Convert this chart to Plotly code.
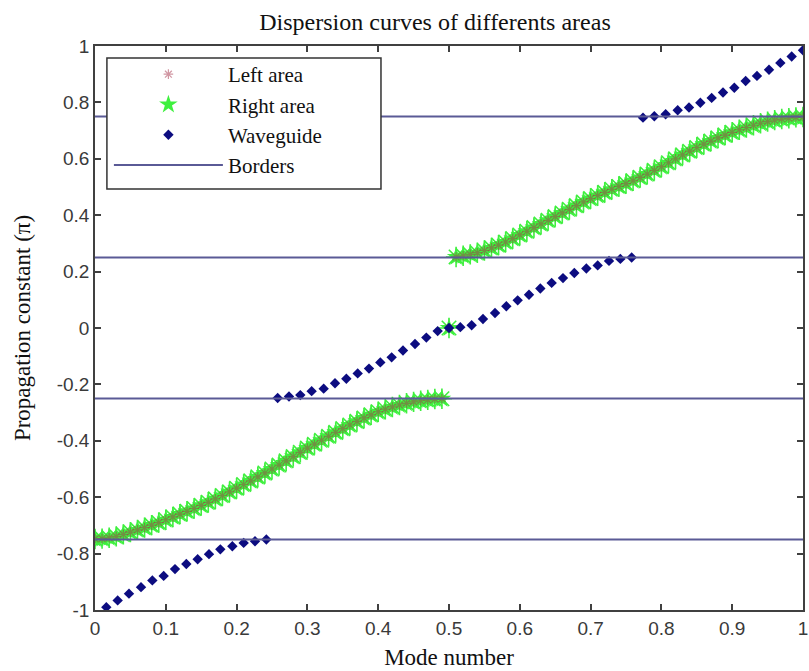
import plotly.graph_objects as go

# ---------------- data ----------------
title_text = "Dispersion curves of differents areas"
x_label = "Mode number"
y_label = "Propagation constant (\u03c0)"

x_tick_vals = [0, 0.1, 0.2, 0.3, 0.4, 0.5, 0.6, 0.7, 0.8, 0.9, 1]
x_tick_text = ["0", "0.1", "0.2", "0.3", "0.4", "0.5", "0.6", "0.7", "0.8", "0.9", "1"]
y_tick_vals = [-1, -0.8, -0.6, -0.4, -0.2, 0, 0.2, 0.4, 0.6, 0.8, 1]
y_tick_text = ["-1", "-0.8", "-0.6", "-0.4", "-0.2", "0", "0.2", "0.4", "0.6", "0.8", "1"]

# Left / right area dispersion bands (mode number, propagation constant)
band_x = [0.00, 0.01, 0.02, 0.03, 0.04, 0.05, 0.06, 0.07, 0.08, 0.09,
          0.10, 0.11, 0.12, 0.13, 0.14, 0.15, 0.16, 0.17, 0.18, 0.19,
          0.20, 0.21, 0.22, 0.23, 0.24, 0.25, 0.26, 0.27, 0.28, 0.29,
          0.30, 0.31, 0.32, 0.33, 0.34, 0.35, 0.36, 0.37, 0.38, 0.39,
          0.40, 0.41, 0.42, 0.43, 0.44, 0.45, 0.46, 0.47, 0.48, 0.49,
          0.50,
          0.51, 0.52, 0.53, 0.54, 0.55, 0.56, 0.57, 0.58, 0.59, 0.60,
          0.61, 0.62, 0.63, 0.64, 0.65, 0.66, 0.67, 0.68, 0.69, 0.70,
          0.71, 0.72, 0.73, 0.74, 0.75, 0.76, 0.77, 0.78, 0.79, 0.80,
          0.81, 0.82, 0.83, 0.84, 0.85, 0.86, 0.87, 0.88, 0.89, 0.90,
          0.91, 0.92, 0.93, 0.94, 0.95, 0.96, 0.97, 0.98, 0.99, 1.00]
band_y = [-0.748, -0.747, -0.744, -0.739, -0.732, -0.724, -0.716, -0.708, -0.699, -0.690,
          -0.680, -0.670, -0.660, -0.650, -0.640, -0.629, -0.618, -0.606, -0.594, -0.581,
          -0.568, -0.555, -0.542, -0.528, -0.514, -0.500, -0.486, -0.471, -0.456, -0.441,
          -0.426, -0.412, -0.398, -0.384, -0.370, -0.357, -0.344, -0.331, -0.319, -0.308,
          -0.297, -0.288, -0.280, -0.273, -0.267, -0.262, -0.258, -0.255, -0.252, -0.251,
          0.000,
          0.252, 0.256, 0.261, 0.267, 0.275, 0.284, 0.294, 0.305, 0.317, 0.330,
          0.343, 0.356, 0.369, 0.382, 0.395, 0.408, 0.421, 0.434, 0.447, 0.459,
          0.470, 0.481, 0.492, 0.502, 0.512, 0.522, 0.534, 0.546, 0.559, 0.572,
          0.586, 0.600, 0.614, 0.627, 0.640, 0.652, 0.663, 0.674, 0.684, 0.694,
          0.703, 0.711, 0.719, 0.726, 0.732, 0.737, 0.741, 0.744, 0.747, 0.748]

# Waveguide modes
wg_x = [0.016, 0.032, 0.048, 0.065, 0.081, 0.097, 0.113, 0.129, 0.145, 0.161,
        0.177, 0.194, 0.210, 0.226, 0.242,
        0.258, 0.274, 0.290, 0.306, 0.323, 0.339, 0.355, 0.371, 0.387, 0.403,
        0.419, 0.435, 0.452, 0.468, 0.484,
        0.500,
        0.516, 0.532, 0.548, 0.565, 0.581, 0.597, 0.613, 0.629, 0.645, 0.661,
        0.677, 0.694, 0.710, 0.726, 0.742, 0.758,
        0.774, 0.790, 0.806, 0.823, 0.839, 0.855, 0.871, 0.887, 0.903, 0.919,
        0.935, 0.952, 0.968, 0.984, 1.000]
wg_y = [-0.990, -0.966, -0.942, -0.919, -0.895, -0.879, -0.855, -0.837, -0.820, -0.802,
        -0.785, -0.774, -0.762, -0.756, -0.750,
        -0.248, -0.243, -0.238, -0.224, -0.215, -0.196, -0.180, -0.161, -0.144, -0.122,
        -0.104, -0.080, -0.057, -0.034, -0.011,
        0.000,
        0.003, 0.010, 0.032, 0.053, 0.077, 0.098, 0.118, 0.140, 0.160, 0.177,
        0.195, 0.211, 0.222, 0.238, 0.245, 0.250,
        0.746, 0.751, 0.758, 0.772, 0.782, 0.799, 0.816, 0.835, 0.852, 0.876,
        0.894, 0.916, 0.940, 0.963, 0.985]

border_levels = [-0.75, -0.25, 0.25, 0.75]
border_x_span = [0, 1]

# ---------------- figure ----------------
SERIF = "Liberation Serif"
SANS = "Liberation Sans"
W, H = 809, 671
ML, MR, MT, MB = 95, 1, 46, 61

bx, by = [], []
for lev in border_levels:
    bx += [border_x_span[0], border_x_span[1], None]
    by += [lev, lev, None]

GREEN = "#3ef03e"
RED = "#a33048"

fig = go.Figure()

# spiky green halo of the right-area stars
fig.add_trace(go.Scatter(
    x=band_x, y=band_y, mode="markers", showlegend=False, hoverinfo="skip",
    marker=dict(symbol="asterisk-open", size=17, color=GREEN,
                line=dict(color=GREEN, width=1.6)),
))
fig.add_trace(go.Scatter(
    x=band_x, y=band_y, mode="markers", name="Right area", legendrank=2,
    marker=dict(symbol="star", size=14, color=GREEN, line=dict(width=0)),
))
fig.add_trace(go.Scatter(
    x=band_x, y=band_y, mode="markers", name="Left area", legendrank=1,
    marker=dict(symbol="asterisk-open", size=8, color=RED, opacity=0.5,
                line=dict(color=RED, width=1.2)),
))
fig.add_trace(go.Scatter(
    x=wg_x, y=wg_y, mode="markers", name="Waveguide", legendrank=3,
    marker=dict(symbol="diamond", size=8, color="#0c0c80"),
))
fig.add_trace(go.Scatter(
    x=bx, y=by, mode="lines", name="Borders", legendrank=4,
    line=dict(color="#5a5a96", width=2),
))

axis_common = dict(
    showgrid=False, zeroline=False, showline=True, linecolor="#404040", linewidth=1.5,
    mirror="ticks", ticks="inside", ticklen=6, tickwidth=1.5, tickcolor="#404040",
    tickfont=dict(family=SANS, size=19, color="#3a3a3a"),
    ticklabeloverflow="allow",
)

pw = W - ML - MR
ph = H - MT - MB


def px2paper_x(px):
    return (px - ML) / pw


def px2paper_y(py):
    return (H - MB - py) / ph


# legend frame (pixel box of the reference legend)
leg_box = dict(x0=107, x1=383, y0=58, y1=189)

fig.update_layout(
    width=W, height=H,
    margin=dict(l=ML, r=MR, t=MT, b=MB),
    font=dict(family=SERIF, color="#111"),
    paper_bgcolor="white", plot_bgcolor="white",
    title=dict(text=title_text, x=435 / W, xanchor="center", y=1 - 22 / H, yanchor="middle",
               font=dict(family=SERIF, size=24, color="#111")),
    xaxis=dict(range=[0, 1], tickvals=x_tick_vals, ticktext=x_tick_text,
               title=dict(text=x_label, font=dict(family=SERIF, size=23, color="#111"), standoff=11),
               **axis_common),
    yaxis=dict(range=[-1, 1], tickvals=y_tick_vals, ticktext=y_tick_text,
               title=dict(text=y_label, font=dict(family=SERIF, size=23, color="#111"), standoff=20),
               **axis_common),
    legend=dict(x=px2paper_x(leg_box["x0"] + 2), y=px2paper_y(leg_box["y0"] - 4),
                xanchor="left", yanchor="top",
                bgcolor="rgba(0,0,0,0)", borderwidth=0,
                font=dict(family=SERIF, size=21, color="#111"),
                itemwidth=109, tracegroupgap=0),
    shapes=[dict(type="rect", xref="paper", yref="paper",
                 x0=px2paper_x(leg_box["x0"]), x1=px2paper_x(leg_box["x1"]),
                 y0=px2paper_y(leg_box["y1"]), y1=px2paper_y(leg_box["y0"]),
                 fillcolor="white", line=dict(color="#333", width=1.5), layer="above")],
    showlegend=True,
)

fig.write_html("out.html")
